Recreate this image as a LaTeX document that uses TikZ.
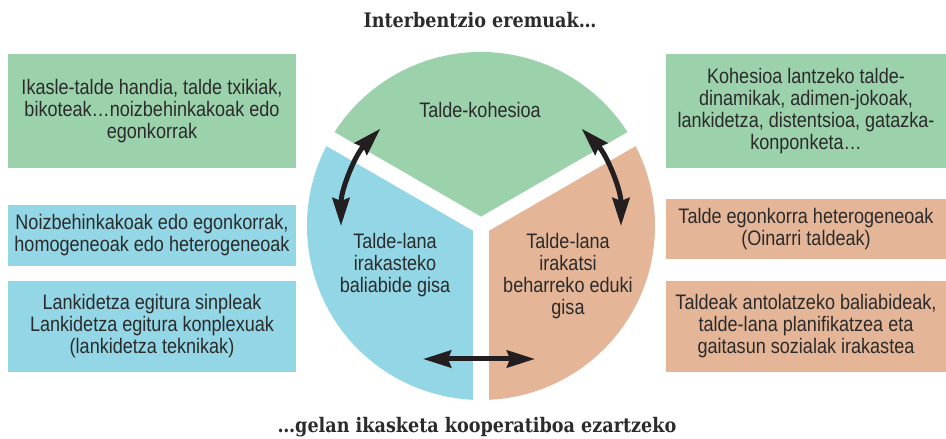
\documentclass[tikz,border=0pt]{standalone}
\usepackage{fontspec}
\setmainfont{Liberation Sans}[FakeStretch=0.86]
\newfontfamily\titlefont{DejaVu Serif}[FakeStretch=0.88]
\usetikzlibrary{arrows.meta}
\definecolor{grn}{HTML}{9BD1AB}
\definecolor{blu}{HTML}{93D6E5}
\definecolor{org}{HTML}{E4B597}
\definecolor{txt}{HTML}{2B2B2B}
\definecolor{arr}{HTML}{231F20}
\tikzset{
  boxtxt/.style={align=center, inner sep=0pt, text=txt, font=\fontsize{21}{22}\selectfont},
  sidebox/.style={boxtxt, minimum height=#1},
  lbox/.style={minimum width=288pt},
  rbox/.style={minimum width=280pt},
  ttl/.style={inner sep=0pt, text=txt, font=\titlefont\bfseries\fontsize{20}{22}\selectfont},
  bigtip/.tip={Stealth[length=28pt,width=17pt,inset=3pt]},
  dbl/.style={arr, line width=5pt, {bigtip}-{bigtip}},
  gap/.style={white, line width=16pt}
}
\begin{document}
\begin{tikzpicture}[x=1pt,y=1pt]
\useasboundingbox (0,0) rectangle (946,439);
\coordinate (c) at (481,213);
% sectors
\fill[grn] (c) -- ++(30:174) arc[start angle=30,end angle=150,radius=174] -- cycle;
\fill[blu] (c) -- ++(150:174) arc[start angle=150,end angle=270,radius=174] -- cycle;
\fill[org] (c) -- ++(270:174) arc[start angle=270,end angle=390,radius=174] -- cycle;
\draw[gap] (c) -- ++(30:185);
\draw[gap] (c) -- ++(150:185);
\draw[gap] (c) -- ++(270:185);
% sector texts
\node[boxtxt] (tk) at (480,329) {Talde-kohesioa};
\node[boxtxt] (tl) at (395,174) {Talde-lana\\irakasteko\\baliabide gisa};
\node[boxtxt] (tr) at (568,163) {Talde-lana\\irakatsi\\beharreko eduki\\gisa};
% arrows
\path (c) ++(136:140) coordinate (la1);
\path (c) ++(44:140) coordinate (ra1);
\path (c) ++(-58,-133) coordinate (ba1);
\path (c) ++(54,-133) coordinate (ba2);
\draw[dbl] (la1) arc[start angle=136,end angle=180,radius=140];
\draw[dbl] (ra1) arc[start angle=44,end angle=0,radius=140];
\draw[dbl] (ba1) -- (ba2);
% side boxes
\node[sidebox=114pt, lbox, fill=grn] (b1) at (152,328) {Ikasle-talde handia, talde txikiak,\\bikoteak\dots noizbehinkakoak edo\\egonkorrak};
\node[sidebox=61pt, lbox, fill=blu] (b2) at (152,203.5) {Noizbehinkakoak edo egonkorrak,\\homogeneoak edo heterogeneoak};
\node[sidebox=91pt, lbox, fill=blu] (b3) at (152,112.5) {Lankidetza egitura sinpleak\\Lankidetza egitura konplexuak\\(lankidetza teknikak)};
\node[sidebox=114pt, rbox, fill=grn] (r1) at (806,328) {Kohesioa lantzeko talde-\\dinamikak, adimen-jokoak,\\lankidetza, distentsioa, gatazka-\\konponketa\dots};
\node[sidebox=60pt, rbox, fill=org] (r2) at (806,210) {Talde egonkorra heterogeneoak\\(Oinarri taldeak)};
\node[sidebox=91pt, rbox, fill=org] (r3) at (806,112.5) {Taldeak antolatzeko baliabideak,\\talde-lana planifikatzea eta\\gaitasun sozialak irakastea};
% titles
\node[ttl] (top) at (480,419) {Interbentzio eremuak\dots};
\node[ttl] (bot) at (477,12) {\dots gelan ikasketa kooperatiboa ezartzeko};
\end{tikzpicture}
\end{document}
